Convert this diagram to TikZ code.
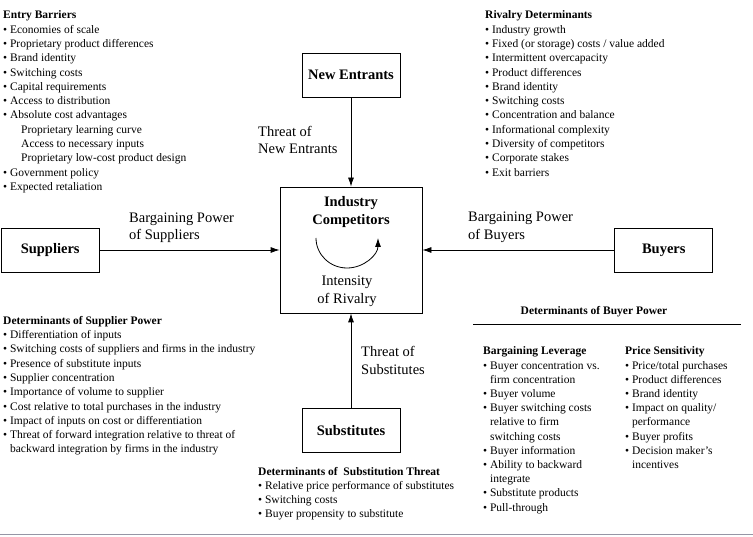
\documentclass[tikz,border=0pt]{standalone}
\usepackage{fontspec}
\setmainfont{Liberation Serif}
\usepackage{tikz}
\usetikzlibrary{positioning,arrows.meta}
\definecolor{framegray}{RGB}{150,150,165}
\newcommand\listfont{\fontsize{11.5}{14.3}\selectfont}
\newcommand\labfont{\fontsize{14.5}{17.5}\selectfont}
\newcommand\blt{\textbullet\ }
\newcommand\bsp{\phantom{\textbullet\ }}
\tikzset{
  line/.style={-{Latex[length=9pt,width=6pt]}, line width=0.8pt},
  box/.style={draw, line width=0.8pt, align=center, inner sep=3pt},
  forcebox/.style={box, minimum width=98pt, minimum height=44pt, font=\labfont\bfseries},
  corebox/.style={box, minimum width=142pt, minimum height=126pt},
  lbl/.style={align=left, inner sep=0pt, font=\labfont},
  lst/.style={anchor=north west, align=left, inner sep=0pt, font=\listfont}
}

\begin{document}
\begin{tikzpicture}[x=1pt, y=1pt]
  \useasboundingbox (0,0) rectangle (753,536);

  % the five forces
  \node[corebox] (comp) at (351,286) {};
  \node[forcebox, above=89pt of comp] (entr) {New Entrants};
  \node[forcebox, left=180pt of comp] (supp) {Suppliers};
  \node[forcebox, right=192pt of comp] (buy) {Buyers};
  \node[forcebox, below=95pt of comp] (subs) {Substitutes};

  \node[align=center, inner sep=0pt, font=\fontsize{14.5}{18}\selectfont\bfseries] (comptitle) at (351,324) {Industry\\Competitors};
  \node[align=center, inner sep=0pt, font=\labfont] (rivtxt) at (347,244.5) {Intensity\\of Rivalry};
  \draw[line] ([shift={(-35,12)}]comp.center) arc[start angle=180, end angle=360, x radius=31, y radius=30];

  \draw[line] (entr) -- (comp);
  \draw[line] (supp) -- (comp);
  \draw[line] (buy) -- (comp);
  \draw[line] (subs) -- (comp);

  \node[lbl, anchor=west] (thrent) at (258,396) {Threat of\\New Entrants};
  \node[lbl, anchor=west] (bpsupp) at (129,308.5) {Bargaining Power\\of Suppliers};
  \node[lbl, anchor=west] (bpbuy) at (468,308.5) {Bargaining Power\\of Buyers};
  \node[lbl, anchor=west] (thrsub) at (361,175.5) {Threat of\\Substitutes};

  % determinants
  \node[lst] (entry) at (3,525.3) {\textbf{Entry Barriers}\\
    \blt Economies of scale\\
    \blt Proprietary product differences\\
    \blt Brand identity\\
    \blt Switching costs\\
    \blt Capital requirements\\
    \blt Access to distribution\\
    \blt Absolute cost advantages\\
    \hspace*{18pt}Proprietary learning curve\\
    \hspace*{18pt}Access to necessary inputs\\
    \hspace*{18pt}Proprietary low-cost product design\\
    \blt Government policy\\
    \blt Expected retaliation};

  \node[lst] (rivalry) at (485,525.3) {\textbf{Rivalry Determinants}\\
    \blt Industry growth\\
    \blt Fixed (or storage) costs / value added\\
    \blt Intermittent overcapacity\\
    \blt Product differences\\
    \blt Brand identity\\
    \blt Switching costs\\
    \blt Concentration and balance\\
    \blt Informational complexity\\
    \blt Diversity of competitors\\
    \blt Corporate stakes\\
    \blt Exit barriers};

  \node[lst] (supplier) at (3,220) {\textbf{Determinants of Supplier Power}\\
    \blt Differentiation of inputs\\
    \blt Switching costs of suppliers and firms in the industry\\
    \blt Presence of substitute inputs\\
    \blt Supplier concentration\\
    \blt Importance of volume to supplier\\
    \blt Cost relative to total purchases in the industry\\
    \blt Impact of inputs on cost or differentiation\\
    \blt Threat of forward integration relative to threat of\\
    \bsp backward integration by firms in the industry};

  \node[lst, font=\fontsize{11.5}{14}\selectfont] (substthr) at (258,69) {\textbf{Determinants of\ \ Substitution Threat}\\
    \blt Relative price performance of substitutes\\
    \blt Switching costs\\
    \blt Buyer propensity to substitute};

  \node[lst, anchor=north] (bphead) at (594,230) {\textbf{Determinants of Buyer Power}};
  \draw[line width=0.8pt] (473,212) -- (741,212);

  \node[lst, font=\fontsize{11.5}{14.2}\selectfont] (leverage) at (483,189.3) {\textbf{Bargaining Leverage}\\
    \blt Buyer concentration vs.\\
    \bsp firm concentration\\
    \blt Buyer volume\\
    \blt Buyer switching costs\\
    \bsp relative to firm\\
    \bsp switching costs\\
    \blt Buyer information\\
    \blt Ability to backward\\
    \bsp integrate\\
    \blt Substitute products\\
    \blt Pull-through};

  \node[lst, font=\fontsize{11.5}{14.2}\selectfont] (pricesens) at (625,189.3) {\textbf{Price Sensitivity}\\
    \blt Price/total purchases\\
    \blt Product differences\\
    \blt Brand identity\\
    \blt Impact on quality/\\
    \bsp performance\\
    \blt Buyer profits\\
    \blt Decision maker’s\\
    \bsp incentives};

  \draw[framegray, line width=1pt] (0,2) -- (753,2);
\end{tikzpicture}
\end{document}
